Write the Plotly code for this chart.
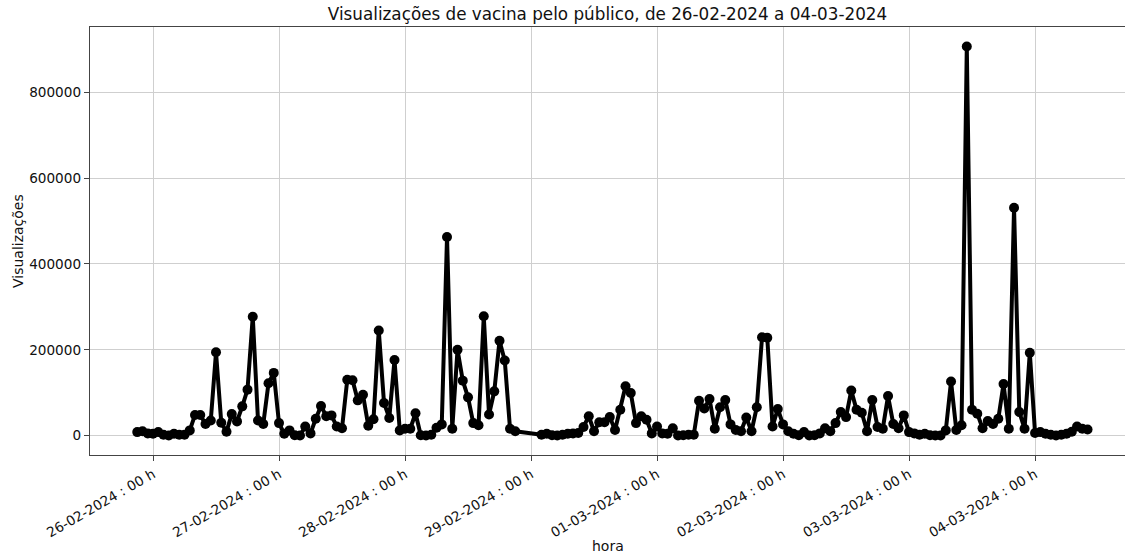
import pandas as pd
import plotly.graph_objects as go

# Hourly series, starting 25-02-2024 21h, with four missing hours
inicio = "2024-02-25 21:00"
n_horas = 182
horas_ausentes = ["2024-02-28 22:00", "2024-02-28 23:00",
                  "2024-02-29 00:00", "2024-02-29 01:00"]

visualizacoes = [
    # 25-02 21h .. 28-02 21h
    8000, 10000, 5000,
    4000, 8000, 2000, 300, 4000, 2000, 2000, 12000, 48000, 48000, 27000, 35000,
    194000, 30000, 9000, 50000, 33000, 68000, 107000, 277000, 35000, 27000, 122000, 146000,
    29000, 4000, 12000, 500, 300, 21000, 5000, 39000, 69000, 45000, 47000, 21000,
    17000, 130000, 129000, 82000, 95000, 23000, 38000, 245000, 76000, 41000, 176000, 12000,
    16000, 16000, 52000, 500, 300, 2000, 18000, 26000, 463000, 16000, 200000, 128000,
    89000, 29000, 24000, 278000, 49000, 103000, 221000, 175000, 16000, 10000,
    # 29-02 02h .. 04-03 10h
    2000, 4000, 500, 300, 2000, 4000, 5000, 6000, 20000, 45000,
    10000, 31000, 31000, 43000, 13000, 60000, 115000, 99000, 29000, 45000, 37000, 5000,
    21000, 5000, 4000, 17000, 300, 500, 2000, 2000, 81000, 63000, 85000, 16000,
    66000, 83000, 26000, 13000, 10000, 42000, 10000, 66000, 229000, 228000, 21000, 62000,
    26000, 10000, 4000, 500, 8000, 300, 500, 5000, 17000, 10000, 29000, 55000,
    43000, 105000, 60000, 53000, 10000, 83000, 20000, 16000, 92000, 27000, 17000, 47000,
    8000, 5000, 2000, 4000, 500, 300, 300, 12000, 126000, 13000, 24000, 907000,
    60000, 51000, 17000, 34000, 27000, 39000, 120000, 16000, 531000, 55000, 16000, 193000,
    6000, 8000, 4000, 2000, 300, 2000, 4000, 9000, 21000, 16000, 14000,
]

todas = pd.date_range(inicio, periods=n_horas, freq="h")
horas = todas[~todas.isin(pd.to_datetime(horas_ausentes))]
assert len(horas) == len(visualizacoes)

titulo = "Visualizações de vacina pelo público, de 26-02-2024 a 04-03-2024"
rotulo_x = "hora"
rotulo_y = "Visualizações"

FONT = "DejaVu Sans"
TXT = "#111111"

fig = go.Figure()
fig.add_trace(go.Scatter(
    x=horas, y=visualizacoes, mode="lines+markers",
    line=dict(color="black", width=4),
    marker=dict(color="black", size=10),
    showlegend=False,
))

W, H = 1125, 554
L, T, R = 90, 27, 0
plot_h = 428
B = H - T - plot_h
plot_w = W - L - R

fig.update_layout(
    width=W, height=H,
    margin=dict(l=L, r=R, t=T, b=B, pad=0),
    paper_bgcolor="white", plot_bgcolor="white",
    font=dict(family=FONT, color=TXT, size=14),
    title=dict(text=titulo, x=0.5, xref="paper", xanchor="center",
               y=1 - 14 / H, yref="container", yanchor="middle",
               font=dict(family=FONT, size=16.8, color=TXT)),
)

fig.update_xaxes(
    type="date",
    range=["2024-02-25 12:00", "2024-03-04 17:08"],
    tick0="2024-02-26 00:00", dtick=86400000,
    tickformat="%d-%m-%Y : %H h", tickangle=-30,
    tickfont=dict(family=FONT, size=13.6, color=TXT),
    showgrid=True, gridcolor="#cfcfcf", gridwidth=1,
    showline=True, linecolor="#444", linewidth=1.2, mirror=True,
    ticks="outside", ticklen=5, tickcolor="#444", tickwidth=1,
    zeroline=False,
)
fig.update_yaxes(
    range=[-45350, 952350],
    tickvals=[0, 200000, 400000, 600000, 800000],
    tickformat="d",
    tickfont=dict(family=FONT, size=13.6, color=TXT),
    showgrid=True, gridcolor="#cfcfcf", gridwidth=1,
    showline=True, linecolor="#444", linewidth=1.2, mirror=False,
    ticks="outside", ticklen=5, tickcolor="#444", tickwidth=1,
    zeroline=False,
)

fig.add_annotation(text=rotulo_y, xref="paper", yref="paper",
                   x=(18 - L) / plot_w, y=0.5, textangle=-90,
                   showarrow=False, xanchor="center", yanchor="middle",
                   font=dict(family=FONT, size=14, color=TXT))
fig.add_annotation(text=rotulo_x, xref="paper", yref="paper",
                   x=0.5, y=-(546 - (T + plot_h)) / plot_h,
                   showarrow=False, xanchor="center", yanchor="middle",
                   font=dict(family=FONT, size=14, color=TXT))

# remove the browser's default 8px body margin so the figure fills the window
fig.write_html("out.html",
               config={"displayModeBar": False, "staticPlot": True},
               post_script="document.body.style.margin='0';document.body.style.overflow='hidden';")
